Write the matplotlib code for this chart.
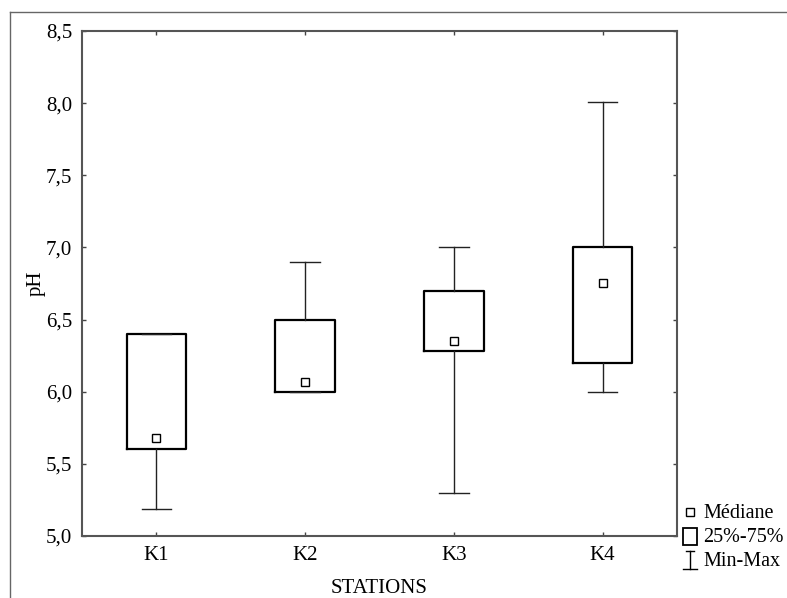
import matplotlib.pyplot as plt
from matplotlib.lines import Line2D
from matplotlib.patches import Rectangle
from matplotlib.ticker import FuncFormatter

plt.rcParams['font.family'] = ['Liberation Serif', 'DejaVu Serif']

stations = ['K1', 'K2', 'K3', 'K4']
ph_min = [5.19, 6.00, 5.30, 6.00]
ph_q1 = [5.60, 6.00, 6.28, 6.20]
ph_med = [5.68, 6.07, 6.35, 6.75]
ph_q3 = [6.40, 6.50, 6.70, 7.00]
ph_max = [6.40, 6.90, 7.00, 8.01]

stats = []
for i, name in enumerate(stations):
    stats.append(dict(label=name, whislo=ph_min[i], q1=ph_q1[i], med=ph_med[i],
                      mean=ph_med[i], q3=ph_q3[i], whishi=ph_max[i]))

fig = plt.figure(figsize=(7.87, 5.98), dpi=100)
ax = fig.add_axes([0.1042, 0.1037, 0.756, 0.8445])

ax.bxp(stats, positions=range(1, len(stations) + 1), widths=0.4, capwidths=0.2,
       showmeans=True, showfliers=False,
       boxprops=dict(color='black', linewidth=1.6),
       whiskerprops=dict(color='#222222', linewidth=1.0),
       capprops=dict(color='#222222', linewidth=1.0),
       medianprops=dict(linestyle='none'),
       meanprops=dict(marker='s', markersize=6, markerfacecolor='white',
                      markeredgecolor='black', markeredgewidth=1.0))

ax.set_xlim(0.5, 4.5)
ax.set_ylim(5.0, 8.5)
ax.set_yticks([5.0, 5.5, 6.0, 6.5, 7.0, 7.5, 8.0, 8.5])
ax.yaxis.set_major_formatter(FuncFormatter(lambda v, p: f'{v:.1f}'.replace('.', ',')))
ax.tick_params(direction='in', length=3, width=1, colors='#444444', labelcolor='black',
               labelsize=15, top=True, right=True)
ax.tick_params(axis='x', pad=7)
ax.tick_params(axis='y', pad=7)
for s in ax.spines.values():
    s.set_color('#555555')
    s.set_linewidth(1.5)

ax.set_xlabel('STATIONS', fontsize=15, labelpad=10)
ax.set_ylabel('pH', fontsize=15, labelpad=0)

# outer frame
fig.add_artist(Line2D([10/787, 10/787], [0, 1 - 12/598], color='#666666', lw=1))
fig.add_artist(Line2D([10/787, 1], [1 - 12/598, 1 - 12/598], color='#666666', lw=1))

# legend
W, H = 787, 598
def fx(x): return x / W
def fy(y): return 1 - y / H
fig.add_artist(Line2D([fx(690)], [fy(512)], marker='s', markersize=6,
                      markerfacecolor='white', markeredgecolor='black', markeredgewidth=1.0))
fig.add_artist(Rectangle((fx(683), fy(545)), 14 / W, 17 / H, transform=fig.transFigure,
                         facecolor='white', edgecolor='black', lw=1.3))
fig.add_artist(Line2D([fx(690), fx(690)], [fy(551), fy(569)], color='black', lw=1))
fig.add_artist(Line2D([fx(686), fx(694)], [fy(551), fy(551)], color='black', lw=1))
fig.add_artist(Line2D([fx(683), fx(697)], [fy(569), fy(569)], color='black', lw=1))
fig.text(fx(703), fy(513), 'Médiane', fontsize=14.5, va='center')
fig.text(fx(703), fy(538), '25%-75%', fontsize=14.5, va='center')
fig.text(fx(703), fy(561), 'Min-Max', fontsize=14.5, va='center')

fig.savefig('out.png', dpi=100)
plt.close()
